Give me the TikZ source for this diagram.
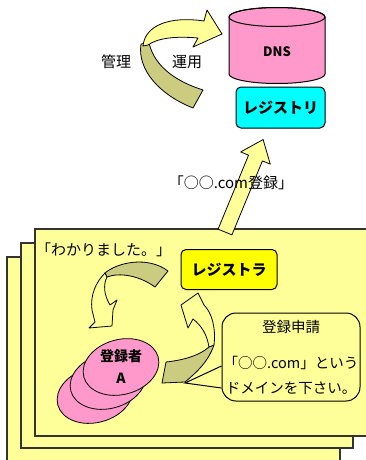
\documentclass[tikz,border=0pt]{standalone}
\usepackage{fontspec}
\newfontfamily\jp{Noto Sans CJK JP}
\usetikzlibrary{shapes.geometric}

\definecolor{pagefill}{HTML}{FFFF99}
\definecolor{foldfill}{HTML}{CCCC80}
\definecolor{dbpink}{HTML}{FF99CC}
\definecolor{regcyan}{HTML}{00FFFF}
\definecolor{regyellow}{HTML}{FFFF00}

\begin{document}
\begin{tikzpicture}[
		x=1pt, y=1pt,
		every node/.style={inner sep=0pt},
		label/.style={font=\jp\fontsize{15}{17}\selectfont},
		office/.style={draw, line width=1pt, rounded corners=5pt, font=\jp\bfseries\fontsize{15}{17}\selectfont},
		sheet/.style={draw=black!80, line width=1.2pt, fill=pagefill},
		band/.style={draw, line width=0.8pt, fill=pagefill, line join=round},
		fold/.style={band, fill=foldfill},
		person/.style={ellipse, draw, line width=0.8pt, fill=dbpink, minimum width=77pt, minimum height=55pt, rotate=15}
		]
		\useasboundingbox (0,0) rectangle (366,-460);

		% stack of registrar sheets
		\draw[sheet] (7,-257) rectangle (340,-464);
		\draw[sheet] (21,-243) rectangle (353,-448);
		\draw[sheet] (35,-229) rectangle (370,-436);

		% DNS database
		\draw[line width=1pt, fill=dbpink] (229,-17) -- (229,-74) arc (180:360:48 and 9.5) -- (325,-17) arc (0:180:48 and 9.5) -- cycle;
		\draw[line width=1pt] (277,-17) ellipse (48 and 9.5);
		\node[font=\jp\bfseries\fontsize{13}{15}\selectfont] (dns) at (277,-52) {DNS};

		\node[office, fill=regcyan, minimum width=89pt, minimum height=41pt] (registry) at (280.5,-107.5) {レジストリ};
		\node[office, fill=regyellow, minimum width=96pt, minimum height=40pt] (registrar) at (229,-269.5) {レジストラ};

		% manage / operate loop
		\draw[fold] (141,-44) .. controls (137,-70) and (160,-95) .. (193,-108) -- (203,-90) .. controls (178,-82) and (155,-68) .. (149,-43) -- cycle;
		\draw[band] (143,-46) .. controls (145,-25) and (170,-16) .. (204,-21) -- (207,-10) -- (222,-34) -- (193,-47) -- (198,-38) .. controls (175,-36) and (158,-38) .. (148,-45) -- cycle;
		\node[label] (kanri) at (116,-62) {管理};
		\node[label] (unyou) at (187,-62) {運用};

		% registration sent up to the registry
		\begin{scope}[shift={(225,-232)}, rotate=67.6]
			\draw[band] (0,-7.5) -- (80,-7.5) -- (80,-16) -- (100,0) -- (80,16) -- (80,7.5) -- (0,7.5) -- cycle;
		\end{scope}
		\node[label] (order) at (231,-183) {「○○.com登録」};

		% registrants
		\node[person] (reg3) at (95,-395) {};
		\node[person] (reg2) at (108,-381) {};
		\node[person] (reg1) at (121,-367) {};
		\node[font=\jp\bfseries\fontsize{14}{22}\selectfont, align=center] at (reg1) {登録者\\A};

		% answer back to the registrant
		\node[label, anchor=west] (ok) at (36,-250) {「わかりました。」};
		\draw[fold] (105,-273) .. controls (118,-262) and (148,-256) .. (168,-271) -- (155,-287) .. controls (140,-276) and (120,-272) .. (107,-277) -- cycle;
		\draw[band] (105,-273) .. controls (96,-282) and (90,-295) .. (92,-310) -- (95,-322) -- (89,-328) -- (112,-326) -- (113,-310) -- (117,-300) -- (110,-305) .. controls (104,-295) and (103,-285) .. (107,-277) -- cycle;

		% application to the registrar
		\draw[fold] (214,-345) .. controls (208,-362) and (197,-372) .. (185,-382) -- (162,-383) -- (166,-362) .. controls (185,-360) and (200,-355) .. (209,-347) -- cycle;
		\draw[band] (198,-293) -- (181,-305) -- (188,-328) -- (193,-319) .. controls (202,-326) and (207,-335) .. (209,-347) -- (214,-345) .. controls (216,-328) and (212,-313) .. (204,-305) -- cycle;

		% speech bubble
		\coordinate (tip) at (185,-383);
		\node[draw, line width=1pt, fill=pagefill, rounded corners=14pt, minimum width=138pt, minimum height=88pt] (bubble) at (291,-357) {};
		\draw[line width=1pt] ([yshift=-9pt]bubble.west) -- (tip) -- ([yshift=-31pt]bubble.west);
		\node[align=center, font=\jp\fontsize{14.5}{25}\selectfont] at (bubble) {登録申請\\[11pt]「○○.com」という\\ドメインを下さい。};
\end{tikzpicture}
\end{document}
